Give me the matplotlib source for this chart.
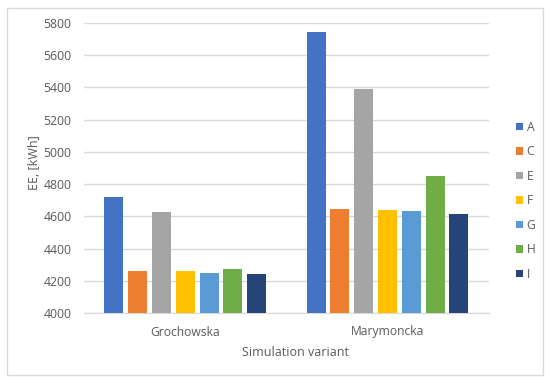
import matplotlib
matplotlib.use("Agg")
import matplotlib.pyplot as plt
import numpy as np
from matplotlib.patches import Rectangle

categories = ["Grochowska", "Marymoncka"]
series = ["A", "C", "E", "F", "G", "H", "I"]
values = {
    "A": [4720, 5745],
    "C": [4258, 4648],
    "E": [4627, 5393],
    "F": [4258, 4640],
    "G": [4250, 4635],
    "H": [4273, 4848],
    "I": [4240, 4615],
}
colors = ["#4472C4", "#ED7D31", "#A5A5A5", "#FFC000", "#5B9BD5", "#70AD47", "#264478"]
yticks = [4000, 4200, 4400, 4600, 4800, 5000, 5200, 5400, 5600, 5800]

plt.rcParams['font.family'] = ['Open Sans', 'DejaVu Sans']
fig = plt.figure(figsize=(5.5, 3.83), dpi=100)
fig.patches.append(Rectangle((7/550, 1-375/383), 536/550, 367/383, transform=fig.transFigure,
                             fill=False, edgecolor="#D9D9D9", linewidth=1.0))
ax_left, ax_w = 84.1, 404.5
ax = fig.add_axes([ax_left/550, 1-313/383, ax_w/550, 290/383])

x = np.arange(len(categories))
step = 0.1176
width = 0.094
n = len(series)
for i, (s, c) in enumerate(zip(series, colors)):
    off = (i - (n - 1) / 2) * step
    ax.bar(x + off, np.array(values[s]) - 4000, width=width, bottom=4000, color=c, label=s, zorder=3)

ax.set_xlim(-0.5, 1.5)
ax.set_ylim(4000, 5800)
ax.set_yticks(yticks)
ax.set_xticks(x)
ax.set_xticklabels(categories)
ax.grid(axis="y", color="#D9D9D9", linewidth=1.0, zorder=0)
for sp in ["top", "right", "left"]:
    ax.spines[sp].set_visible(False)
ax.spines["bottom"].set_color("#D9D9D9")
ax.tick_params(axis="y", length=0, labelsize=8.8, colors="#595959", pad=9)
ax.tick_params(axis="x", length=0, labelsize=8.7, colors="#595959", pad=9)
ax.set_ylabel("EE, [kWh]", fontsize=9, color="#595959", va="center")
ax.set_xlabel("Simulation variant", fontsize=9, color="#595959", va="center")
ax.yaxis.set_label_coords((34 - ax_left) / ax_w, (313 - 163) / 290)
ax.xaxis.set_label_coords((296 - ax_left) / ax_w, (313 - 352) / 290)

leg = fig.legend(loc="upper left", bbox_to_anchor=(505/550, 1-110/383), frameon=False,
                 fontsize=8.7, handlelength=0.55, handleheight=0.55, handletextpad=0.33,
                 labelspacing=0.95, labelcolor="#595959")

fig.savefig("out.png", dpi=100)
